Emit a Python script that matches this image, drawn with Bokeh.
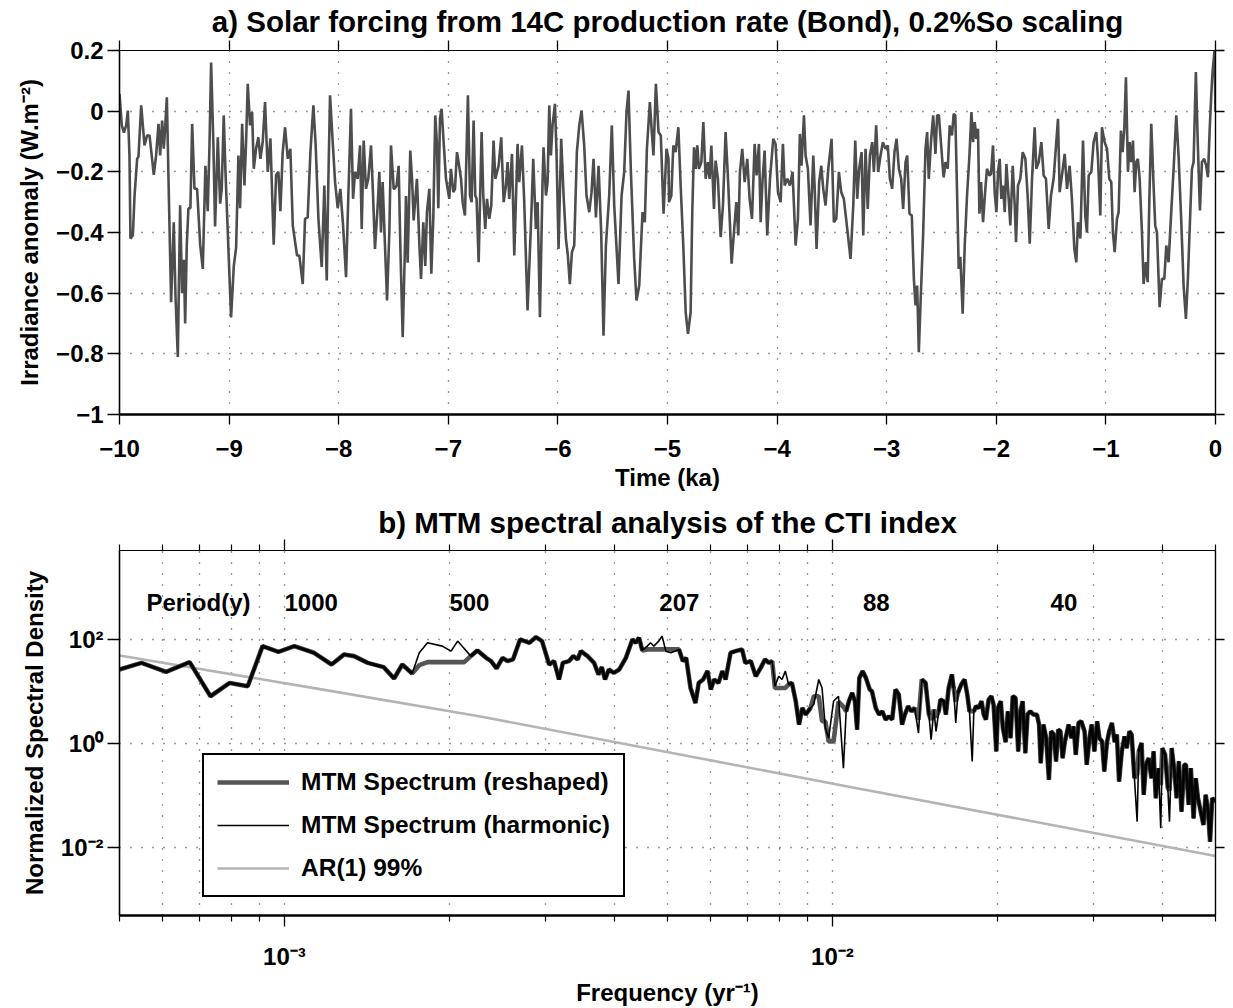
import math
from bokeh.plotting import figure
from bokeh.models import (FixedTicker, LinearAxis, LogAxis, CustomJSTickFormatter,
                          Legend, LegendItem, ColumnDataSource, Range1d)
from bokeh.layouts import column
from bokeh.embed import file_html
from bokeh.resources import INLINE
from bokeh.core.properties import value

FONT = "Liberation Sans"

# ---------------- panel a: solar forcing time series (time in ka, W/m2) ----------------
time_a = [-10.000, -9.979, -9.960, -9.939, -9.924, -9.909, -9.900, -9.878, -9.863, -9.839,
          -9.827, -9.802, -9.772, -9.748, -9.726, -9.687, -9.666, -9.644, -9.629, -9.611,
          -9.596, -9.584, -9.568, -9.553, -9.529, -9.505, -9.489, -9.468, -9.447, -9.429,
          -9.413, -9.401, -9.386, -9.371, -9.353, -9.337, -9.316, -9.292, -9.264, -9.240,
          -9.216, -9.195, -9.179, -9.164, -9.143, -9.128, -9.103, -9.082, -9.067, -9.049,
          -9.033, -9.012, -8.982, -8.957, -8.936, -8.915, -8.900, -8.881, -8.860, -8.845,
          -8.830, -8.809, -8.790, -8.775, -8.754, -8.733, -8.714, -8.693, -8.672, -8.647,
          -8.623, -8.593, -8.571, -8.550, -8.532, -8.511, -8.489, -8.465, -8.441, -8.419,
          -8.380, -8.359, -8.328, -8.307, -8.283, -8.258, -8.231, -8.210, -8.185, -8.155,
          -8.131, -8.109, -8.094, -8.079, -8.055, -8.033, -8.009, -7.985, -7.960, -7.933,
          -7.912, -7.888, -7.869, -7.851, -7.827, -7.805, -7.790, -7.772, -7.751, -7.730,
          -7.705, -7.690, -7.669, -7.644, -7.629, -7.614, -7.599, -7.578, -7.559, -7.538,
          -7.523, -7.498]
irr_a = [0.057, -0.047, -0.071, -0.047, 0.002, -0.146, -0.42, -0.41, -0.28, -0.157,
         -0.15, 0.019, -0.113, -0.08, -0.08, -0.21, -0.146, -0.042, -0.146, -0.031,
         -0.124, -0.058, 0.046, -0.223, -0.63, -0.366, -0.61, -0.81, -0.31, -0.60,
         -0.49, -0.70, -0.44, -0.32, -0.32, -0.042, -0.256, -0.256, -0.44, -0.52,
         -0.18, -0.33, -0.113, 0.16, -0.113, -0.38, -0.086, -0.305, -0.256, -0.014,
         -0.2, -0.40, -0.68, -0.51, -0.45, -0.146, -0.32, -0.042, -0.245, -0.10,
         0.09, -0.047, -0.003, -0.19, -0.124, -0.086, -0.157, -0.10, 0.03, -0.2,
         -0.09, -0.44, -0.21, -0.2, -0.33, -0.135, -0.053, -0.157, -0.124, -0.377,
         -0.476, -0.476, -0.57, -0.355, -0.35, -0.135, 0.019, -0.113, -0.355, -0.514,
         -0.245, -0.558, -0.223, 0.052, -0.10, -0.234, -0.32, -0.256, -0.377, -0.547,
         -0.278, 0.008, -0.289, -0.2, -0.223, -0.113, -0.388, -0.097, -0.256, -0.223,
         -0.113, -0.245, -0.454, -0.31, -0.2, -0.40, -0.234, -0.44, -0.624, -0.40,
         -0.113, -0.256]

time_b = [-7.492, -7.471, -7.453, -7.438, -7.416, -7.395, -7.386, -7.371, -7.347, -7.331,
          -7.316, -7.301, -7.286, -7.264, -7.249, -7.228, -7.210, -7.195, -7.173, -7.155,
          -7.137, -7.119, -7.103, -7.091, -7.076, -7.061, -7.043, -7.021, -6.991, -6.976,
          -6.954, -6.939, -6.921, -6.906, -6.884, -6.869, -6.848, -6.821, -6.802, -6.787,
          -6.769, -6.754, -6.742, -6.723, -6.696, -6.681, -6.663, -6.647, -6.626, -6.608,
          -6.587, -6.571, -6.541, -6.517, -6.495, -6.474, -6.459, -6.444, -6.419, -6.398,
          -6.368, -6.353, -6.328, -6.307, -6.277, -6.246, -6.225, -6.201, -6.185, -6.164,
          -6.140, -6.131, -6.109, -6.094, -6.079, -6.064, -6.049, -6.027, -6.012, -5.994,
          -5.970, -5.948, -5.927, -5.909, -5.891, -5.872, -5.851, -5.827, -5.805, -5.784,
          -5.760, -5.739, -5.714, -5.693, -5.675, -5.653, -5.629, -5.605, -5.584, -5.562,
          -5.532, -5.508, -5.486, -5.447, -5.419, -5.395, -5.374, -5.356, -5.334, -5.304,
          -5.283, -5.258, -5.228, -5.207, -5.188, -5.161, -5.143, -5.128, -5.106, -5.082,
          -5.061, -5.036, -5.009, -4.991]
irr_b = [-0.256, -0.245, -0.18, -0.44, -0.745, -0.44, -0.28, -0.50, -0.13, -0.223,
         -0.36, -0.29, -0.223, -0.44, -0.553, -0.366, -0.51, -0.333, -0.256, -0.536,
         -0.355, -0.014, -0.113, -0.32, -0.025, 0.008, -0.10, -0.223, -0.289, -0.19,
         -0.267, -0.256, -0.135, -0.168, -0.223, -0.30, -0.344, 0.052, -0.278, -0.30,
         -0.031, -0.278, -0.289, -0.498, -0.069, -0.278, -0.388, -0.289, -0.355, -0.311,
         -0.097, -0.223, -0.18, -0.086, -0.30, -0.245, -0.168, -0.289, -0.141, -0.476,
         -0.108, -0.234, -0.113, -0.30, -0.657, -0.377, -0.157, -0.388, -0.30, -0.679,
         -0.234, -0.119, -0.278, -0.234, 0.019, -0.146, -0.047, 0.024, -0.146, -0.454,
         -0.091, -0.278, -0.42, -0.476, -0.57, -0.465, -0.443, -0.135, -0.047, 0.002,
         -0.113, -0.278, -0.333, -0.267, -0.157, -0.35, -0.18, -0.40, -0.74, -0.443,
         -0.278, -0.047, -0.311, -0.57, -0.278, -0.2, -0.003, 0.068, -0.2, -0.487,
         -0.624, -0.575, -0.333, -0.366, -0.124, 0.03, -0.069, -0.146, 0.09, -0.069,
         -0.08, -0.338, -0.124, -0.157]

time_c = [-4.986, -4.965, -4.947, -4.926, -4.901, -4.880, -4.856, -4.834, -4.813, -4.789,
          -4.774, -4.758, -4.743, -4.728, -4.713, -4.691, -4.673, -4.652, -4.631, -4.616,
          -4.600, -4.576, -4.561, -4.540, -4.515, -4.494, -4.470, -4.448, -4.415, -4.394,
          -4.372, -4.354, -4.339, -4.318, -4.296, -4.272, -4.251, -4.229, -4.205, -4.187,
          -4.166, -4.150, -4.132, -4.114, -4.090, -4.065, -4.035, -4.014, -3.992, -3.968,
          -3.947, -3.931, -3.907, -3.883, -3.859, -3.831, -3.810, -3.792, -3.777, -3.755,
          -3.740, -3.719, -3.695, -3.670, -3.658, -3.640, -3.616, -3.597, -3.579, -3.558,
          -3.533, -3.503, -3.482, -3.460, -3.436, -3.415, -3.391, -3.360, -3.330, -3.305,
          -3.287, -3.269, -3.251, -3.229, -3.214, -3.193, -3.173, -3.153, -3.132, -3.117,
          -3.096, -3.078, -3.056, -3.035, -3.011, -2.990, -2.971, -2.950, -2.929, -2.910,
          -2.889, -2.868, -2.850, -2.828, -2.813, -2.792, -2.771, -2.752, -2.737, -2.722,
          -2.707, -2.692, -2.667, -2.646, -2.631, -2.616, -2.594, -2.576, -2.555, -2.540,
          -2.524, -2.503, -2.485]
irr_c = [-0.30, -0.278, -0.113, -0.135, -0.053, -0.245, -0.443, -0.663, -0.734, -0.663,
         -0.333, -0.119, -0.19, -0.113, -0.19, -0.168, -0.036, -0.223, -0.168, -0.223,
         -0.113, -0.322, -0.163, -0.223, -0.415, -0.311, -0.069, -0.223, -0.503, -0.40,
         -0.30, -0.41, -0.20, -0.124, -0.234, -0.157, -0.289, -0.355, -0.108, -0.212,
         -0.108, -0.366, -0.223, -0.13, -0.41, -0.223, -0.091, -0.108, -0.267, -0.30,
         -0.108, -0.245, -0.223, -0.245, -0.20, -0.443, -0.355, -0.075, -0.18, -0.014,
         -0.146, -0.19, -0.377, -0.146, -0.245, -0.454, -0.234, -0.18, -0.256, -0.311,
         -0.19, -0.091, -0.366, -0.355, -0.20, -0.267, -0.289, -0.388, -0.487, -0.311,
         -0.097, -0.289, -0.19, -0.135, -0.41, -0.124, -0.322, -0.146, -0.102, -0.20,
         -0.047, -0.20, -0.146, -0.102, -0.124, -0.113, -0.223, -0.256, -0.135, -0.091,
         -0.19, -0.223, -0.322, -0.168, -0.146, -0.338, -0.344, -0.553, -0.64, -0.575,
         -0.795, -0.64, -0.40, -0.124, -0.069, -0.223, -0.091, -0.014, -0.141, -0.014,
         -0.014, -0.113, -0.20]

time_d = [-2.480, -2.464, -2.443, -2.425, -2.404, -2.389, -2.374, -2.358, -2.343, -2.328,
          -2.307, -2.288, -2.267, -2.245, -2.227, -2.212, -2.197, -2.182, -2.167, -2.154,
          -2.139, -2.121, -2.100, -2.085, -2.063, -2.048, -2.030, -2.015, -1.999, -1.984,
          -1.969, -1.954, -1.939, -1.923, -1.908, -1.887, -1.872, -1.850, -1.832, -1.820,
          -1.802, -1.781, -1.759, -1.735, -1.714, -1.695, -1.674, -1.650, -1.635, -1.613,
          -1.589, -1.568, -1.547, -1.522, -1.501, -1.477, -1.455, -1.437, -1.422, -1.401,
          -1.376, -1.355, -1.331, -1.310, -1.288, -1.270, -1.255, -1.233, -1.209, -1.188,
          -1.173, -1.157, -1.133, -1.112, -1.088, -1.072, -1.051, -1.036, -1.012, -0.990,
          -0.969, -0.951, -0.936, -0.920, -0.899, -0.884, -0.863, -0.848, -0.832, -0.817,
          -0.799, -0.784, -0.768, -0.753, -0.738, -0.723, -0.708, -0.692, -0.671, -0.656,
          -0.635, -0.619, -0.604, -0.586, -0.565, -0.550, -0.534, -0.510, -0.489, -0.467,
          -0.449, -0.428, -0.404, -0.382, -0.358, -0.337, -0.312, -0.291, -0.270, -0.252,
          -0.230, -0.215, -0.200, -0.179, -0.161, -0.142, -0.124, -0.103, -0.085, -0.069,
          -0.054, -0.039, -0.027, -0.009, 0.000]
irr_d = [-0.218, -0.168, -0.19, -0.047, -0.08, -0.009, -0.014, -0.267, -0.52, -0.48,
         -0.668, -0.443, -0.278, -0.146, -0.003, -0.102, -0.036, -0.091, -0.058, -0.338,
         -0.234, -0.366, -0.256, -0.19, -0.212, -0.207, -0.113, -0.267, -0.333, -0.20,
         -0.157, -0.289, -0.245, -0.333, -0.174, -0.289, -0.377, -0.18, -0.311, -0.432,
         -0.245, -0.223, -0.135, -0.157, -0.278, -0.437, -0.223, -0.053, -0.19, -0.168,
         -0.102, -0.212, -0.223, -0.388, -0.278, -0.223, -0.113, -0.025, -0.267, -0.212,
         -0.141, -0.256, -0.18, -0.289, -0.454, -0.498, -0.366, -0.42, -0.097, -0.344,
         -0.40, -0.212, -0.20, -0.102, -0.069, -0.157, -0.344, -0.053, -0.102, -0.124,
         -0.223, -0.234, -0.40, -0.465, -0.355, -0.333, -0.064, -0.135, -0.058, 0.112,
         -0.20, -0.102, -0.168, -0.097, -0.267, -0.168, -0.157, -0.223, -0.40, -0.57,
         -0.498, -0.564, -0.30, -0.042, -0.245, -0.377, -0.40, -0.646, -0.553, -0.553,
         -0.443, -0.498, -0.333, -0.19, -0.014, -0.146, -0.366, -0.575, -0.685, -0.553,
         -0.333, -0.19, -0.168, 0.129, -0.113, -0.327, -0.168, -0.157, -0.18, -0.218,
         -0.069, 0.052, 0.129, 0.20, -0.003]

time_ticks = [-10, -9, -8, -7, -6, -5, -4, -3, -2, -1, 0]
irr_ticks = [-1.0, -0.8, -0.6, -0.4, -0.2, 0.0, 0.2]

# ---------------- panel b: MTM spectrum (log10 frequency [1/yr], log10 density) ----------------
spec_low = [(-3.301, 1.417), (-3.261, 1.544), (-3.216, 1.371), (-3.173, 1.558), (-3.135, 0.904),
            (-3.100, 1.160), (-3.067, 1.096), (-3.040, 1.865), (-3.011, 1.756), (-2.982, 1.865),
            (-2.946, 1.737), (-2.914, 1.513), (-2.891, 1.706), (-2.873, 1.673), (-2.848, 1.544),
            (-2.819, 1.462), (-2.800, 1.244), (-2.785, 1.513), (-2.767, 1.340), (-2.754, 1.737),
            (-2.739, 1.929), (-2.712, 1.865), (-2.696, 1.769), (-2.684, 1.962), (-2.672, 1.820),
            (-2.660, 1.673), (-2.648, 1.783), (-2.632, 1.640), (-2.623, 1.577), (-2.613, 1.437),
            (-2.602, 1.640), (-2.593, 1.577), (-2.583, 1.610), (-2.570, 1.994), (-2.553, 1.929),
            (-2.541, 2.038), (-2.530, 1.962), (-2.517, 1.513), (-2.508, 1.577), (-2.499, 1.225),
            (-2.492, 1.544), (-2.481, 1.577), (-2.473, 1.673), (-2.465, 1.610), (-2.459, 1.769),
            (-2.447, 1.673), (-2.435, 1.544), (-2.427, 1.321), (-2.421, 1.462), (-2.415, 1.225),
            (-2.408, 1.417), (-2.399, 1.352), (-2.389, 1.417), (-2.377, 1.640), (-2.365, 1.994),
            (-2.359, 1.929), (-2.353, 2.025), (-2.347, 1.783), (-2.338, 1.865), (-2.332, 1.929),
            (-2.326, 1.865), (-2.317, 1.962), (-2.311, 2.058), (-2.304, 1.769), (-2.295, 1.737)]
spec_mid = [(-2.280, 1.802), (-2.273, 1.577), (-2.267, 1.640), (-2.259, 1.063), (-2.250, 0.775),
            (-2.244, 1.160), (-2.236, 1.225), (-2.228, 1.385), (-2.222, 1.033), (-2.216, 1.225),
            (-2.208, 1.160), (-2.201, 1.385), (-2.195, 1.225), (-2.186, 1.737), (-2.177, 1.769),
            (-2.165, 1.802), (-2.159, 1.544), (-2.149, 1.577), (-2.140, 1.288), (-2.131, 1.448),
            (-2.123, 1.610), (-2.116, 1.544), (-2.110, 1.577), (-2.105, 1.096), (-2.098, 1.288),
            (-2.092, 1.225), (-2.086, 1.385), (-2.080, 1.129), (-2.074, 1.160), (-2.067, 0.808),
            (-2.061, 0.360), (-2.055, 0.679), (-2.049, 0.552), (-2.040, 0.679), (-2.034, 0.750),
            (-2.025, 1.225), (-2.019, 1.063), (-2.013, 0.294), (-2.007, 0.102), (-1.998, 0.808),
            (-1.989, 0.904), (-1.980, -0.475), (-1.975, 0.615), (-1.970, 0.808), (-1.964, 0.967),
            (-1.959, 0.808), (-1.955, 0.263), (-1.951, 1.256), (-1.945, 1.385), (-1.939, 1.256),
            (-1.932, 1.033), (-1.928, 1.000), (-1.921, 0.679), (-1.915, 0.552), (-1.909, 0.615),
            (-1.903, 0.456), (-1.897, 0.519), (-1.891, 0.456), (-1.885, 1.033), (-1.879, 0.937),
            (-1.873, 0.360), (-1.868, 0.552), (-1.862, 0.712), (-1.856, 0.615), (-1.850, 0.679),
            (-1.843, 0.198), (-1.837, 1.225), (-1.830, 1.160), (-1.824, 0.552), (-1.820, 0.071),
            (-1.815, 0.648), (-1.811, 0.231), (-1.806, 0.615), (-1.803, 0.840), (-1.797, 0.808),
            (-1.793, 0.552), (-1.788, 1.063), (-1.782, 1.321), (-1.779, 1.063), (-1.775, 0.390),
            (-1.771, 0.967), (-1.765, 1.129), (-1.759, 1.225), (-1.754, 0.937), (-1.750, 0.615),
            (-1.745, -0.346), (-1.742, 0.615), (-1.738, 0.712), (-1.733, 0.679), (-1.728, 0.808),
            (-1.724, 0.552), (-1.720, 0.456), (-1.715, 0.840), (-1.710, 0.904), (-1.706, 0.744)]
spec_high = [(-1.701, -0.154), (-1.698, 0.679), (-1.693, 0.808), (-1.689, 0.294), (-1.684, 0.025),
             (-1.680, 0.615), (-1.675, 0.102), (-1.671, 0.904), (-1.666, 0.871), (-1.661, -0.154),
             (-1.657, 0.615), (-1.653, 0.808), (-1.648, -0.187), (-1.644, 0.552), (-1.639, 0.615),
             (-1.633, 0.552), (-1.627, 0.552), (-1.623, 0.360), (-1.620, -0.379), (-1.615, 0.360),
             (-1.610, 0.102), (-1.605, -0.698), (-1.601, 0.231), (-1.596, 0.167), (-1.592, -0.346),
             (-1.588, 0.263), (-1.584, 0.231), (-1.580, -0.283), (-1.576, 0.025), (-1.569, 0.360),
             (-1.564, 0.102), (-1.560, 0.327), (-1.556, -0.218), (-1.551, 0.390), (-1.546, 0.423),
             (-1.540, 0.231), (-1.536, -0.410), (-1.531, 0.102), (-1.527, 0.360), (-1.522, -0.154),
             (-1.517, 0.423), (-1.513, 0.102), (-1.508, 0.038), (-1.504, -0.538), (-1.499, 0.025),
             (-1.495, 0.231), (-1.490, 0.390), (-1.485, 0.025), (-1.481, 0.167), (-1.477, -0.731),
             (-1.472, -0.154), (-1.467, 0.135), (-1.463, -0.090), (-1.458, 0.231), (-1.454, 0.167),
             (-1.449, -0.667), (-1.444, -1.500), (-1.441, -0.154), (-1.436, 0.006), (-1.432, -0.987),
             (-1.428, -0.410), (-1.423, -0.283), (-1.418, -0.667), (-1.414, -0.154), (-1.410, -1.051),
             (-1.405, -0.475), (-1.401, -1.629), (-1.398, -0.090), (-1.393, -0.218), (-1.388, -0.860),
             (-1.385, -1.500), (-1.381, -0.090), (-1.376, -0.538), (-1.372, -1.051), (-1.368, -0.346),
             (-1.363, -1.308), (-1.358, -0.410), (-1.355, -0.410), (-1.350, -1.179), (-1.346, -0.475),
             (-1.341, -1.437), (-1.337, -0.667), (-1.333, -1.051), (-1.328, -1.308), (-1.323, -1.564),
             (-1.319, -0.987), (-1.315, -1.244), (-1.311, -1.885), (-1.307, -1.051), (-1.301, -1.115)]

# reshaped spectrum: where it departs from the harmonic one (log10 f -> log10 density)
reshaped_log_freq = [-2.754, -2.739, -2.712, -2.696, -2.684, -2.672,
                     -2.338, -2.332, -2.326, -2.317, -2.311, -2.304, -2.295,
                     -2.105, -2.098, -2.092, -2.086,
                     -2.034, -2.025, -2.019, -2.013, -2.007, -1.998, -1.989, -1.980,
                     -1.843, -1.820, -1.811, -1.775, -1.745, -1.444, -1.401, -1.385]
reshaped_log_psd = [1.50, 1.558, 1.558, 1.558, 1.558, 1.558,
                    1.802, 1.802, 1.802, 1.802, 1.802, 1.802, 1.802,
                    1.063, 1.063, 1.063, 1.063,
                    0.904, 0.904, 0.423, 0.423, 0.038, 0.038, 0.80, 0.70,
                    0.45, 0.45, 0.50, 0.80, 0.62, -0.60, -0.80, -0.90]

# AR(1) 99% confidence level
ar_log_freq = [-3.301, -2.946, -2.645, -2.300, -1.970, -1.650, -1.301]
ar_log_psd = [1.686, 1.060, 0.520, -0.170, -0.830, -1.466, -2.160]

period_years = [1000, 500, 207, 88, 40]
period_header_freq = 5.6e-4
period_label_level = 510.0

freq_major = [1e-3, 1e-2]
freq_minor = [5e-4, 6e-4, 7e-4, 8e-4, 9e-4, 2e-3, 3e-3, 4e-3, 5e-3, 6e-3, 7e-3, 8e-3, 9e-3,
              2e-2, 3e-2, 4e-2, 5e-2]
psd_ticks = [1e-2, 1.0, 1e2]

# ---------------- helpers ----------------
GRID_COLOR = "#333333"
GRID_DASH = "1 10"

minus_fmt_x = CustomJSTickFormatter(code="""
    const v = Math.round(tick);
    return v < 0 ? "\u2212" + Math.abs(v) : String(v);
""")
minus_fmt_y = CustomJSTickFormatter(code="""
    const v = Math.round(tick * 10) / 10;
    if (v === 0) return "0";
    return (v < 0 ? "\u2212" : "") + String(Math.abs(v));
""")
pow_fmt = CustomJSTickFormatter(code="""
    const e = Math.round(Math.log10(tick));
    const m = {"-": "\u207b", "0": "\u2070", "1": "\u00b9", "2": "\u00b2", "3": "\u00b3",
               "4": "\u2074", "5": "\u2075", "6": "\u2076", "7": "\u2077", "8": "\u2078", "9": "\u2079"};
    return "10" + String(e).split("").map(c => m[c]).join("");
""")


def blank_fmt():
    return CustomJSTickFormatter(code='return "";')


def style_axis(ax, width, label_size="24px", tick_out=10):
    ax.axis_line_color = "black"
    ax.axis_line_width = width
    ax.major_tick_line_color = "black"
    ax.major_tick_line_width = 1.3
    ax.major_tick_in = 0
    ax.major_tick_out = tick_out
    ax.minor_tick_line_color = "black"
    ax.minor_tick_line_width = 1.2
    ax.minor_tick_in = 0
    ax.minor_tick_out = 6
    ax.major_label_text_font = FONT
    ax.major_label_text_font_style = "bold"
    ax.major_label_text_font_size = label_size
    ax.major_label_text_color = "black"
    ax.axis_label_text_font = FONT
    ax.axis_label_text_font_style = "bold"
    ax.axis_label_text_font_size = "24px"
    ax.axis_label_text_color = "black"


def dummy_axis(ax):
    ax.formatter = blank_fmt()
    ax.major_label_text_font_size = "1px"
    ax.major_label_standoff = 0
    ax.axis_label = None


def style_title(p, text, standoff):
    p.title.text = text
    p.title.align = "center"
    p.title.text_font = FONT
    p.title.text_font_size = "29.5px"
    p.title.text_font_style = "bold"
    p.title.text_color = "black"
    p.title.standoff = standoff


# ---------------- figure a ----------------
p1 = figure(frame_width=1096, frame_height=364,
            x_range=Range1d(-10, 0), y_range=Range1d(-1, 0.2),
            output_backend="svg", toolbar_location=None,
            min_border_left=119, min_border_right=10, min_border_top=49, min_border_bottom=86,
            background_fill_color="white", border_fill_color="white")
p1.outline_line_color = "black"
style_title(p1, "a) Solar forcing from 14C production rate (Bond), 0.2%So scaling", 5)

time_all = time_a + time_b + time_c + time_d
irr_all = irr_a + irr_b + irr_c + irr_d
p1.line(time_all, irr_all, line_color="#4d4d4d", line_width=2.6)

xt1 = FixedTicker(ticks=time_ticks)
yt1 = FixedTicker(ticks=irr_ticks)
xa = p1.xaxis[0]
xa.ticker = xt1
xa.formatter = minus_fmt_x
style_axis(xa, 2.4)
xa.major_label_standoff = 15
xa.axis_label = "Time (ka)"
xa.axis_label_standoff = 4
ya = p1.yaxis[0]
ya.ticker = yt1
ya.formatter = minus_fmt_y
style_axis(ya, 1.6, tick_out=12)
ya.major_label_standoff = 4
ya.axis_label = "Irradiance anomaly (W.m\u207b\u00b2)"
ya.axis_label_standoff = 10

top1 = LinearAxis(ticker=xt1)
style_axis(top1, 1.2, tick_out=10)
dummy_axis(top1)
p1.add_layout(top1, "above")
right1 = LinearAxis(ticker=yt1)
style_axis(right1, 1.4, tick_out=9)
dummy_axis(right1)
p1.add_layout(right1, "right")

p1.xgrid[0].ticker = xt1
p1.ygrid[0].ticker = yt1
for g in (p1.xgrid[0], p1.ygrid[0]):
    g.grid_line_color = GRID_COLOR
    g.grid_line_dash = GRID_DASH
    g.grid_line_width = 1.3

# ---------------- figure b ----------------
spec_all = spec_low + spec_mid + spec_high
log_freq = [a for a, _ in spec_all]
log_harm = [b for _, b in spec_all]
resh_map = dict(zip(reshaped_log_freq, reshaped_log_psd))
freq = [10 ** v for v in log_freq]
harm = [10 ** v for v in log_harm]
resh = [10 ** resh_map.get(f, h) for f, h in zip(log_freq, log_harm)]
common = [10 ** h if f not in resh_map else float("nan") for f, h in zip(log_freq, log_harm)]

p2 = figure(frame_width=1096, frame_height=365, x_axis_type="log", y_axis_type="log",
            x_range=Range1d(5e-4, 5e-2), y_range=Range1d(5e-4, 5e3),
            output_backend="svg", toolbar_location=None,
            min_border_left=119, min_border_right=10, min_border_top=50, min_border_bottom=89,
            background_fill_color="white", border_fill_color="white")
p2.outline_line_color = "black"
style_title(p2, "b) MTM spectral analysis of the CTI index", 2)

xt2 = FixedTicker(ticks=freq_major, minor_ticks=freq_minor)
yt2 = FixedTicker(ticks=psd_ticks)

r_ar = p2.line([10 ** v for v in ar_log_freq], [10 ** v for v in ar_log_psd],
               line_color="#b4b4b4", line_width=2.6)
r_resh = p2.line(freq, resh, line_color="#555555", line_width=4.6)
p2.line(freq, common, line_color="#111111", line_width=3.4)
r_harm = p2.line(freq, harm, line_color="#000000", line_width=1.6)

src_per = ColumnDataSource(dict(
    x=[period_header_freq] + [1.0 / p for p in period_years],
    y=[period_label_level] * (len(period_years) + 1),
    t=["Period(y)"] + [str(p) for p in period_years]))
p2.text(x="x", y="y", text="t", source=src_per, text_font=value(FONT),
        text_font_style="bold", text_font_size="24px", text_align="left",
        text_baseline="middle", text_color="black")

xa2 = p2.xaxis[0]
xa2.ticker = xt2
xa2.formatter = pow_fmt
style_axis(xa2, 2.4, tick_out=11)
xa2.major_label_standoff = 16
xa2.axis_label = "Frequency (yr\u207b\u00b9)"
xa2.axis_label_standoff = 6
ya2 = p2.yaxis[0]
ya2.ticker = yt2
ya2.formatter = pow_fmt
style_axis(ya2, 1.6, tick_out=12)
ya2.major_label_standoff = 4
ya2.axis_label = "Normalized Spectral Density"
ya2.axis_label_standoff = 10

top2 = LogAxis(ticker=xt2)
style_axis(top2, 1.2, tick_out=11)
dummy_axis(top2)
p2.add_layout(top2, "above")
right2 = LogAxis(ticker=yt2)
style_axis(right2, 1.4, tick_out=9)
dummy_axis(right2)
p2.add_layout(right2, "right")

p2.xgrid[0].ticker = xt2
p2.ygrid[0].ticker = yt2
p2.xgrid[0].minor_grid_line_color = GRID_COLOR
p2.xgrid[0].minor_grid_line_dash = GRID_DASH
p2.xgrid[0].minor_grid_line_width = 1.3
for g in (p2.xgrid[0], p2.ygrid[0]):
    g.grid_line_color = GRID_COLOR
    g.grid_line_dash = GRID_DASH
    g.grid_line_width = 1.3

legend = Legend(items=[LegendItem(label="MTM Spectrum (reshaped)", renderers=[r_resh]),
                       LegendItem(label="MTM Spectrum (harmonic)", renderers=[r_harm]),
                       LegendItem(label="AR(1) 99%", renderers=[r_ar])],
                location=(83, 18), margin=0, padding=13, spacing=15,
                glyph_width=72, glyph_height=28, label_height=28, label_standoff=12,
                label_text_font=FONT, label_text_font_style="bold", label_text_font_size="24.5px",
                label_text_color="black",
                border_line_color="black", border_line_width=2.2, border_line_alpha=1.0,
                background_fill_color="white", background_fill_alpha=1.0)
p2.add_layout(legend)

layout = column(p1, p2, spacing=0)
open("out.html", "w").write(file_html(layout, INLINE))
